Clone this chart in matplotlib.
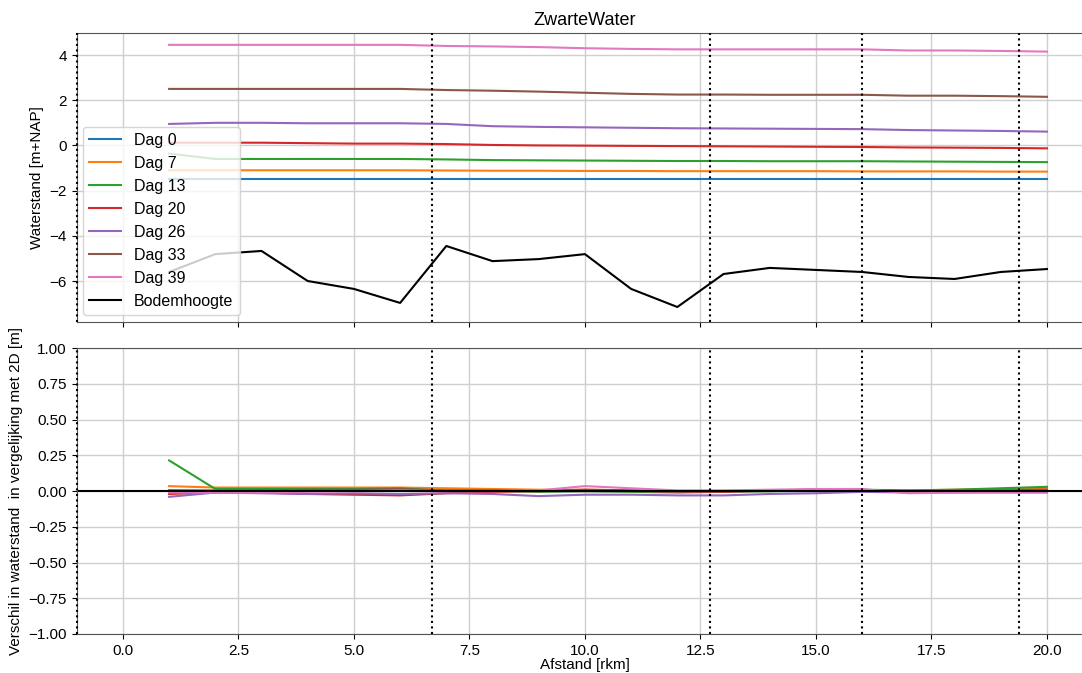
import matplotlib
matplotlib.use("Agg")
import matplotlib.pyplot as plt

plt.rcParams["font.family"] = ["Liberation Sans", "DejaVu Sans"]
plt.rcParams["font.size"] = 11

# ── Data ────────────────────────────────────────────────────────────────────
afstand = [1, 2, 3, 4, 5, 6, 7, 8, 9, 10, 11, 12, 13, 14, 15, 16, 17, 18, 19, 20]

labels = ["Dag 0", "Dag 7", "Dag 13", "Dag 20", "Dag 26", "Dag 33", "Dag 39"]

wl_dag0 = [-1.50, -1.50, -1.50, -1.50, -1.50, -1.50, -1.50, -1.50, -1.50, -1.50,
           -1.50, -1.50, -1.50, -1.50, -1.50, -1.50, -1.50, -1.50, -1.50, -1.50]
wl_dag7 = [-1.10, -1.10, -1.10, -1.10, -1.10, -1.10, -1.11, -1.12, -1.12, -1.13,
           -1.13, -1.14, -1.14, -1.14, -1.14, -1.15, -1.15, -1.15, -1.16, -1.16]
wl_dag13 = [-0.36, -0.60, -0.60, -0.60, -0.60, -0.60, -0.62, -0.65, -0.66, -0.67,
            -0.68, -0.69, -0.69, -0.70, -0.70, -0.70, -0.71, -0.72, -0.73, -0.74]
wl_dag20 = [0.12, 0.12, 0.12, 0.10, 0.08, 0.08, 0.06, 0.02, 0.00, -0.01,
            -0.02, -0.03, -0.04, -0.05, -0.06, -0.07, -0.09, -0.10, -0.11, -0.13]
wl_dag26 = [0.95, 1.00, 1.00, 0.98, 0.98, 0.98, 0.95, 0.85, 0.82, 0.80,
            0.78, 0.76, 0.75, 0.74, 0.73, 0.72, 0.68, 0.66, 0.64, 0.61]
wl_dag33 = [2.50, 2.50, 2.50, 2.50, 2.50, 2.50, 2.45, 2.42, 2.38, 2.33,
            2.28, 2.25, 2.25, 2.24, 2.24, 2.24, 2.20, 2.20, 2.18, 2.15]
wl_dag39 = [4.45, 4.45, 4.45, 4.45, 4.45, 4.45, 4.40, 4.38, 4.35, 4.30,
            4.27, 4.25, 4.25, 4.25, 4.25, 4.25, 4.20, 4.20, 4.18, 4.15]
bodem = [-5.60, -4.81, -4.67, -6.00, -6.35, -6.97, -4.45, -5.12, -5.03, -4.81,
         -6.35, -7.15, -5.69, -5.42, -5.51, -5.60, -5.82, -5.91, -5.60, -5.47]

d_dag0 = [0.005, 0.005, 0.005, 0.005, 0.005, 0.005, 0.005, 0.005, 0.000, 0.000,
          0.000, 0.000, 0.000, 0.000, 0.000, 0.000, 0.000, 0.000, 0.000, 0.000]
d_dag7 = [0.035, 0.025, 0.025, 0.025, 0.025, 0.025, 0.020, 0.015, 0.010, 0.010,
          0.005, 0.000, 0.000, 0.005, 0.005, 0.005, 0.005, 0.010, 0.015, 0.020]
d_dag13 = [0.215, 0.015, 0.015, 0.015, 0.015, 0.020, 0.000, 0.000, -0.005, 0.000,
           -0.005, -0.010, -0.005, 0.000, 0.005, 0.010, 0.005, 0.010, 0.020, 0.030]
d_dag20 = [-0.020, -0.010, -0.010, -0.020, -0.025, -0.030, -0.015, -0.005, 0.000, 0.010,
           0.005, -0.005, -0.005, 0.005, 0.010, 0.010, -0.010, -0.005, 0.000, 0.000]
d_dag26 = [-0.040, -0.010, -0.015, -0.020, -0.015, -0.020, -0.015, -0.020, -0.035, -0.025,
           -0.025, -0.030, -0.030, -0.020, -0.015, -0.005, -0.010, -0.010, -0.010, -0.010]
d_dag33 = [0.005, 0.000, 0.005, 0.010, 0.010, 0.015, 0.005, 0.005, 0.000, 0.000,
           0.000, -0.005, 0.000, 0.000, 0.005, 0.005, 0.000, 0.000, 0.005, 0.010]
d_dag39 = [-0.010, -0.010, -0.010, -0.005, 0.000, 0.005, 0.000, 0.000, 0.005, 0.035,
           0.020, 0.005, 0.005, 0.010, 0.015, 0.015, -0.015, -0.010, -0.005, -0.005]

# rkm positions of the dotted markers
markers_rkm = [-1.0, 6.7, 12.7, 16.0, 19.4]

xticks = [0.0, 2.5, 5.0, 7.5, 10.0, 12.5, 15.0, 17.5, 20.0]
yticks_top = [-6, -4, -2, 0, 2, 4]
yticks_bot = [-1.0, -0.75, -0.5, -0.25, 0.0, 0.25, 0.5, 0.75, 1.0]

waterstanden = [wl_dag0, wl_dag7, wl_dag13, wl_dag20, wl_dag26, wl_dag33, wl_dag39]
verschillen = [d_dag0, d_dag7, d_dag13, d_dag20, d_dag26, d_dag33, d_dag39]

# ── Figure ──────────────────────────────────────────────────────────────────
fig = plt.figure(figsize=(10.82, 6.73), dpi=100)
ax1 = fig.add_axes([0.0709, 0.522, 0.9394, 0.4285])
ax2 = fig.add_axes([0.0709, 0.058, 0.9394, 0.4245], sharex=ax1)

for wl, lab in zip(waterstanden, labels):
    ax1.plot(afstand, wl, label=lab)
ax1.plot(afstand, bodem, color="k", label="Bodemhoogte")
for xv in markers_rkm:
    ax1.axvline(xv, color="k", linestyle=":", linewidth=1.5, zorder=3, clip_on=False)
ax1.set_ylim(-7.8, 4.96)
ax1.set_yticks(yticks_top)
ax1.set_ylabel("Waterstand [m+NAP]")
ax1.set_title("ZwarteWater", fontsize=13)
ax1.grid(True, color="#cfcfcf", linewidth=1.0)
ax1.legend(loc="lower left", fontsize=11.5, borderaxespad=0.4)
ax1.tick_params(labelbottom=False)

for d, lab in zip(verschillen, labels):
    ax2.plot(afstand, d, label=lab)
ax2.axhline(0, color="k", linewidth=1.5)
for xv in markers_rkm:
    ax2.axvline(xv, color="k", linestyle=":", linewidth=1.5, zorder=3, clip_on=False)
ax2.set_ylim(-1.0, 1.0)
ax2.set_yticks(yticks_bot)
ax2.set_xlim(-1.0, 21.0)
ax2.set_xticks(xticks)
ax2.set_xlabel("Afstand [rkm]", labelpad=0)
ax2.set_ylabel("Verschil in waterstand  in vergelijking met 2D [m]")
ax2.grid(True, color="#cfcfcf", linewidth=1.0)

for ax in (ax1, ax2):
    for sp in ax.spines.values():
        sp.set_color("#555555")

fig.savefig("out.png", dpi=100)
